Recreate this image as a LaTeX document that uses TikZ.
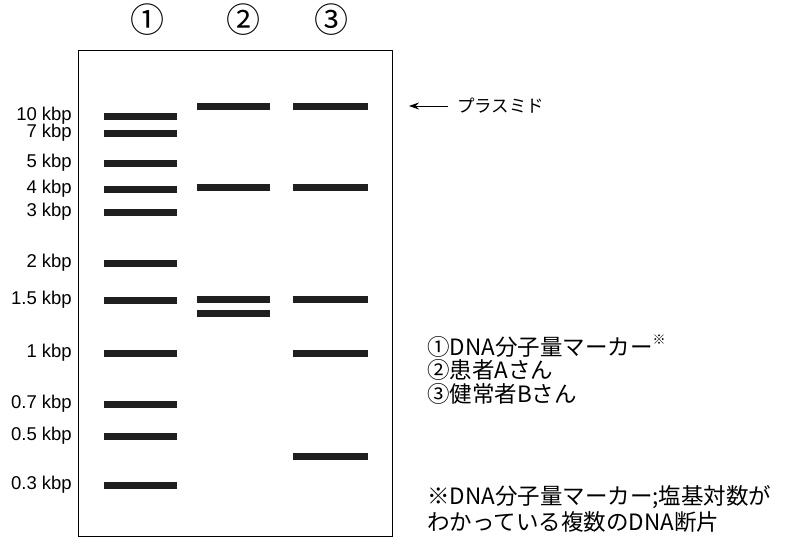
\documentclass[tikz,border=0pt]{standalone}
\usepackage{fontspec}
\setmainfont{Liberation Sans}
\newfontfamily\jp{Noto Sans CJK JP}
\usetikzlibrary{arrows.meta}
\begin{document}
\begin{tikzpicture}[x=1pt,y=-1pt,
  band/.style={fill=black!88,draw=none,inner sep=0pt,minimum width=73pt,minimum height=7pt},
  kb/.style={anchor=east,inner sep=0pt,font=\fontsize{18.5}{19}\selectfont},
  lane/.style={inner sep=0pt,font=\jp\fontsize{34}{34}\selectfont},
  legend/.style={anchor=west,inner sep=0pt,font=\jp\fontsize{22.5}{23}\selectfont}]
\useasboundingbox (0,0) rectangle (803,539);
\fill[white] (0,0) rectangle (803,539);
% gel
\node (gel) [draw,line width=1.4pt,inner sep=0pt,minimum width=314pt,minimum height=486pt,anchor=north west] at (78,50) {};
% lane numbers
\node[lane] (n1) at (147,20) {①};
\node[lane] (n2) at (243,20) {②};
\node[lane] (n3) at (331,20) {③};
% marker lane
\foreach \y/\t [count=\i] in {116/10 kbp,133/7 kbp,163/5 kbp,189/4 kbp,212/3 kbp,263/2 kbp,300/1.5 kbp,353/1 kbp,404/0.7 kbp,436/0.5 kbp,485/0.3 kbp}{
  \node[band] (m\i) at (140.5,\y) {};
  \node[kb] (k\i) at (72,\y) {\t};
}
% lane 2
\foreach \y [count=\i] in {106,187,299,313}{
  \node[band] (a\i) at (233.5,\y) {};
}
% lane 3
\foreach \y [count=\i] in {106,187,299,353,456}{
  \node[band,minimum width=75pt] (b\i) at (330,\y) {};
}
% plasmid arrow
\node[anchor=west,inner sep=0pt,font=\jp\fontsize{17.5}{18}\selectfont] (plas) at (457,106) {プラスミド};
\coordinate (tip) at (409,106);
\draw[-{Stealth[length=10pt,width=7pt]},line width=1pt] ([xshift=-9pt]plas.west) -- (tip);
% legend
\node[legend] (l1) at (427,346) {①DNA分子量マーカー\raisebox{0.5em}{\fontsize{13}{13}\selectfont ※}};
\node[legend] (l2) at (427,370) {②患者Aさん};
\node[legend] (l3) at (427,394) {③健常者Bさん};
\node[legend] (f1) at (427,497) {※DNA分子量マーカー;塩基対数が};
\node[legend] (f2) at (427,522) {わかっている複数のDNA断片};
\end{tikzpicture}
\end{document}
